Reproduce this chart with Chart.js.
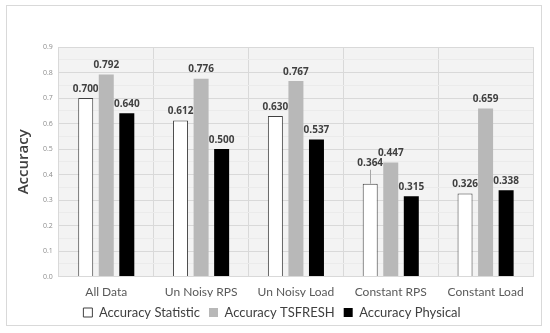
<!DOCTYPE html>
<html>
<head>
<meta charset="utf-8">
<script src="https://cdn.jsdelivr.net/npm/chart.js@4"></script>
<style>
    html, body { margin: 0; padding: 0; background: #fff; }
    #frame {
        position: absolute; left: 6px; top: 5px;
        width: 534px; height: 319px;
        border: 1px solid #d9d9d9; background: #fff;
    }
    #chart-wrap { position: absolute; left: 0; top: 0; width: 534px; height: 319px; }
</style>
</head>
<body>
<div id="frame"><div id="chart-wrap"><canvas id="accChart"></canvas></div></div>
<script>
    // --- dados ---
    const categories = ['All Data', 'Un Noisy RPS', 'Un Noisy Load', 'Constant RPS', 'Constant Load'];
    const accStatistic = [0.700, 0.612, 0.630, 0.364, 0.326];
    const accTsfresh = [0.792, 0.776, 0.767, 0.447, 0.659];
    const accPhysical = [0.640, 0.500, 0.537, 0.315, 0.338];
    const yTicks = [0.0, 0.1, 0.2, 0.3, 0.4, 0.5, 0.6, 0.7, 0.8, 0.9];

    const FONT = 'Lato, "Open Sans", sans-serif';
    const VALUE_FONT = '"Open Sans", "DejaVu Sans", sans-serif';

    // fundo cinza da área do gráfico
    const plotBackground = {
        id: 'plotBackground',
        beforeDraw(chart) {
            const { ctx, chartArea: a } = chart;
            ctx.save();
            ctx.fillStyle = '#f3f3f3';
            ctx.fillRect(a.left, a.top, a.right - a.left, a.bottom - a.top);
            ctx.restore();
        }
    };

    // rótulos de valor acima das barras
    const valueLabels = {
        id: 'valueLabels',
        afterDatasetsDraw(chart) {
            const { ctx } = chart;
            ctx.save();
            ctx.font = 'bold 10px ' + VALUE_FONT;
            ctx.fillStyle = '#404040';
            ctx.textAlign = 'center';
            ctx.textBaseline = 'bottom';
            chart.data.datasets.forEach((ds, di) => {
                chart.getDatasetMeta(di).data.forEach((bar, i) => {
                    let lift = 4;
                    // rótulo deslocado com linha de chamada (Constant RPS / Statistic)
                    if (di === 0 && i === 3) {
                        lift = 16;
                        ctx.strokeStyle = '#a6a6a6';
                        ctx.lineWidth = 1;
                        ctx.beginPath();
                        ctx.moveTo(Math.round(bar.x) + 0.5, bar.y);
                        ctx.lineTo(Math.round(bar.x) + 0.5, bar.y - lift + 2);
                        ctx.stroke();
                    }
                    ctx.fillText(ds.data[i].toFixed(3), bar.x, bar.y - lift);
                });
            });
            ctx.restore();
        }
    };

    new Chart(document.getElementById('accChart').getContext('2d'), {
        type: 'bar',
        data: {
            labels: categories,
            datasets: [
                { label: 'Accuracy Statistic', data: accStatistic, backgroundColor: '#ffffff', borderColor: '#404040', borderWidth: 1 },
                { label: 'Accuracy TSFRESH', data: accTsfresh, backgroundColor: '#b8b8b8', borderColor: '#b8b8b8', borderWidth: 0 },
                { label: 'Accuracy Physical', data: accPhysical, backgroundColor: '#000000', borderColor: '#000000', borderWidth: 0 }
            ]
        },
        options: {
            responsive: true,
            maintainAspectRatio: false,
            animation: false,
            categoryPercentage: 0.65,
            barPercentage: 0.73,
            layout: { padding: { left: 4, right: 8, top: 41, bottom: -4 } },
            scales: {
                x: {
                    grid: { color: '#d9d9d9', drawTicks: false },
                    border: { color: '#d9d9d9' },
                    ticks: { color: '#595959', font: { family: FONT, size: 12 }, padding: 8 },
                    // rótulos do eixo ficam mais perto da legenda
                    afterFit: (axis) => { axis.height -= 10; }
                },
                y: {
                    min: 0, max: 0.9,
                    afterBuildTicks: (axis) => {
                        const t = [];
                        yTicks.forEach((v, i) => {
                            t.push({ value: v });
                            if (i < yTicks.length - 1) t.push({ value: v + 0.05 });
                        });
                        axis.ticks = t;
                    },
                    grid: {
                        color: (c) => (Math.round(c.tick.value * 100) % 10 === 0 ? '#d9d9d9' : '#ebebeb'),
                        drawTicks: false
                    },
                    border: { display: false },
                    ticks: {
                        color: '#8c8c8c',
                        font: { family: '"Open Sans", sans-serif', size: 7 },
                        padding: 6,
                        callback: (v) => (Math.round(v * 100) % 10 === 0 ? v.toFixed(1) : '')
                    },
                    title: {
                        display: true, text: 'Accuracy', color: '#404040',
                        font: { family: '"Open Sans", sans-serif', size: 15, weight: '600' }, padding: { bottom: 4 }
                    }
                }
            },
            plugins: {
                legend: {
                    position: 'bottom',
                    labels: {
                        color: '#404040',
                        font: { family: FONT, size: 13 },
                        boxWidth: 9, boxHeight: 9, padding: 9
                    }
                },
                tooltip: { enabled: false }
            }
        },
        plugins: [plotBackground, valueLabels]
    });
</script>
</body>
</html>
